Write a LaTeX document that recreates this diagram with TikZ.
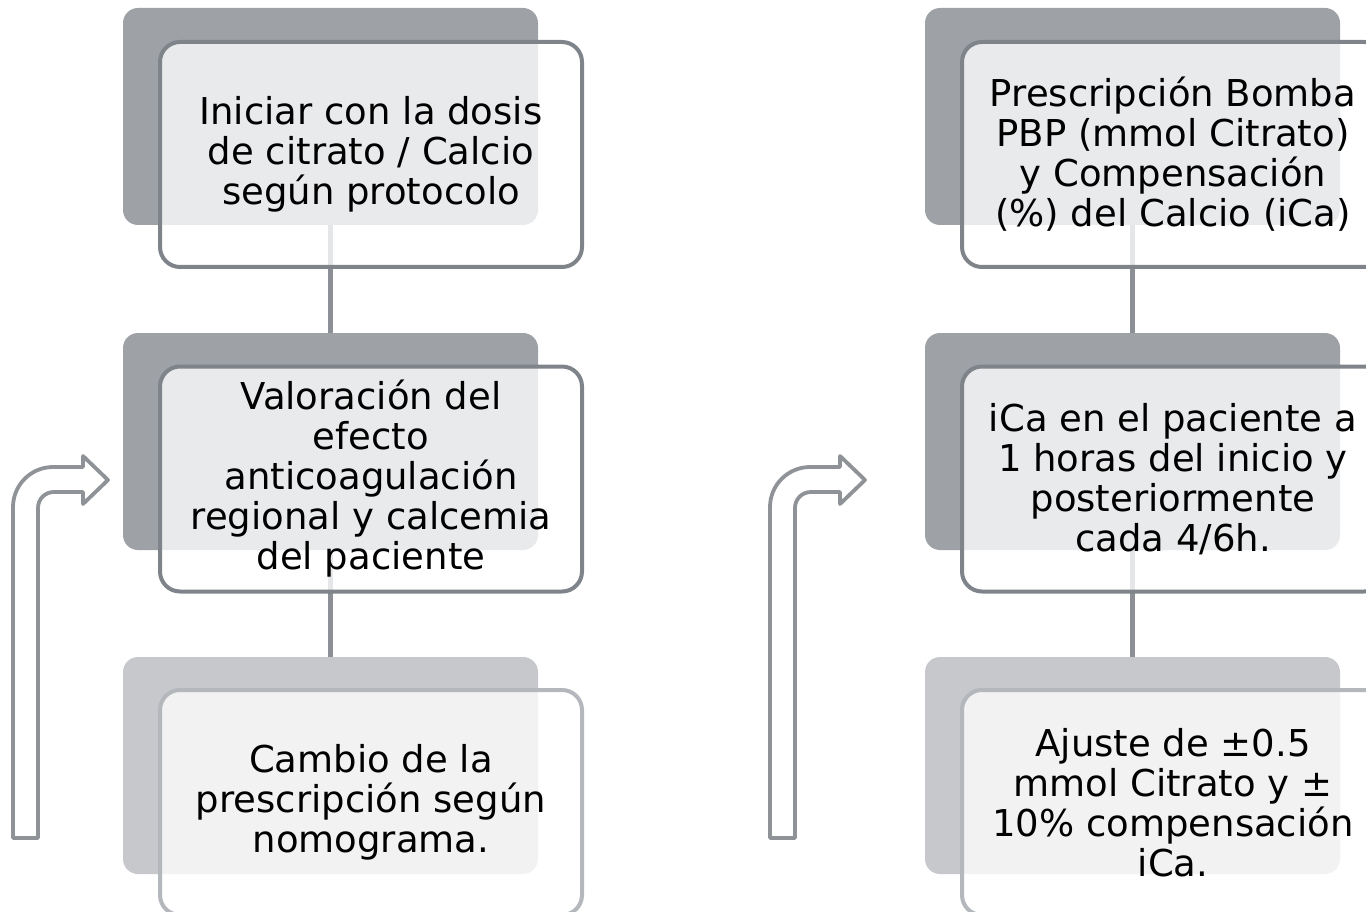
\documentclass[tikz,border=0pt]{standalone}
\usepackage{fontspec}
\newfontfamily\dv{DejaVu Sans}
\definecolor{backdark}{HTML}{9EA1A6}
\definecolor{backlight}{HTML}{C6C8CC}
\definecolor{borderdark}{HTML}{7F848B}
\definecolor{borderlight}{HTML}{B4B7BC}
\definecolor{linkgray}{HTML}{8C9096}
\definecolor{arrowgray}{HTML}{8F9398}
\tikzset{
  backbox/.style={draw=none, rounded corners=15pt, minimum width=415pt, minimum height=217pt, inner sep=0pt, outer sep=0pt},
  frontbox/.style={rounded corners=20pt, line width=4pt, fill=white, fill opacity=0.78, text opacity=1,
     minimum width=422pt, minimum height=225pt, inner sep=0pt, outer sep=0pt, align=center,
     font=\dv\fontsize{37}{40}\selectfont},
  link/.style={draw=linkgray, line width=5pt},
  bentarrow/.style={draw=arrowgray, line width=3.8pt, fill=white, line join=round}
}
\begin{document}
\begin{tikzpicture}[x=1pt,y=-1pt]
\useasboundingbox (0,0) rectangle (1366,912);
% back boxes
\node[backbox, fill=backdark] (lb1) at (330.5,116.5) {};
\node[backbox, fill=backdark] (lb2) at (330.5,441.5) {};
\node[backbox, fill=backlight] (lb3) at (330.5,765.5) {};
\node[backbox, fill=backdark] (rb1) at (1132.5,116.5) {};
\node[backbox, fill=backdark] (rb2) at (1132.5,441.5) {};
\node[backbox, fill=backlight] (rb3) at (1132.5,765.5) {};
% connectors
\draw[link] (lb1.south) -- (lb2.north);
\draw[link] (lb2.south) -- (lb3.north);
\draw[link] (rb1.south) -- (rb2.north);
\draw[link] (rb2.south) -- (rb3.north);
% front boxes
\node[frontbox, draw=borderdark] (lf1) at (371,154.5) {Iniciar con la dosis\\de citrato / Calcio\\según protocolo};
\node[frontbox, draw=borderdark] (lf2) at (371,479) {Valoración del\\efecto\\anticoagulación\\regional y calcemia\\del paciente};
\node[frontbox, draw=borderlight] (lf3) at (371,802.5) {Cambio de la\\prescripción según\\nomograma.};
\node[frontbox, draw=borderdark] (rf1) at (1173,154.5) {Prescripción Bomba\\PBP (mmol Citrato)\\y Compensación\\(\%) del Calcio (iCa)};
\node[frontbox, draw=borderdark] (rf2) at (1173,479) {iCa en el paciente a\\1 horas del inicio y\\posteriormente\\cada 4/6h.};
\node[frontbox, draw=borderlight] (rf3) at (1173,802.5) {Ajuste de ±0.5\\mmol Citrato y ±\\10\% compensación\\iCa.};
% bent-up arrows
\foreach \dx in {0,757}{
  \begin{scope}[xshift=\dx pt]
  \draw[bentarrow] (13,838) -- (13,507) .. controls (13,485) and (31,467) .. (53,467) -- (83,467) -- (83,456) -- (108,480) -- (83,504) -- (83,492) -- (54,492) .. controls (45,492) and (38,499) .. (38,508) -- (38,838) -- cycle;
  \end{scope}
}
\end{tikzpicture}
\end{document}
